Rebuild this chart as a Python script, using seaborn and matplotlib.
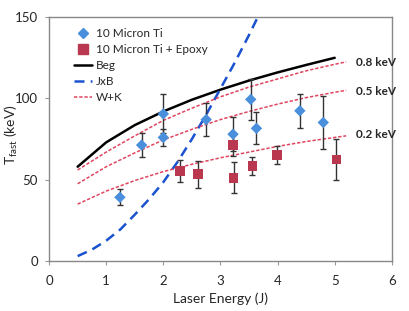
import numpy as np
import pandas as pd
import matplotlib
matplotlib.use("Agg")
import matplotlib.pyplot as plt
import seaborn as sns
from matplotlib.lines import Line2D

sns.set_style("white")
plt.rcParams['font.family'] = ['Lato', 'DejaVu Sans']

# measured points
ti_energy = [1.24, 1.62, 2.0, 2.0, 2.75, 3.22, 3.53, 3.63, 4.39, 4.80]
ti_temp = [39.2, 71.3, 90.5, 76.0, 87.0, 78.0, 99.4, 81.6, 92.4, 85.2]
ti_err = [5.0, 7.5, 12.0, 5.0, 10.0, 10.5, 12.7, 9.8, 10.3, 16.0]

epoxy_energy = [2.29, 2.61, 3.22, 3.23, 3.56, 3.99, 5.03]
epoxy_temp = [55.3, 53.4, 71.3, 51.2, 58.4, 65.2, 62.5]
epoxy_err = [7.0, 8.3, 7.0, 9.5, 5.5, 5.5, 12.5]

# model curves
beg_energy = [0.5, 1.0, 1.5, 2.0, 2.5, 3.0, 3.5, 4.0, 4.5, 5.0]
beg_temp = [58.0, 73.0, 83.6, 92.0, 99.2, 105.4, 111.0, 116.0, 120.6, 125.0]

jxb_energy = [0.5, 0.75, 1.0, 1.25, 1.5, 1.75, 2.0, 2.25, 2.5, 2.75, 3.0, 3.25, 3.5, 3.75]
jxb_temp = [3.0, 7.0, 12.5, 19.5, 28.5, 38.0, 48.5, 61.0, 75.0, 90.0, 106.0, 122.0, 139.0, 157.0]

wk_energy = [0.5, 1.0, 1.5, 2.0, 2.5, 3.0, 3.5, 4.0, 4.5, 5.0, 5.2]
wk_08 = [56.0, 67.0, 77.0, 86.5, 94.0, 101.0, 107.0, 112.0, 117.0, 121.0, 122.5]
wk_05 = [47.5, 58.0, 66.5, 74.5, 81.0, 87.0, 92.0, 96.5, 100.5, 103.8, 105.0]
wk_02 = [35.0, 43.0, 49.5, 55.0, 59.5, 63.5, 67.0, 70.5, 73.5, 76.0, 77.0]

wk_labels = ['0.8 keV', '0.5 keV', '0.2 keV']
wk_label_y = [122, 104, 78]

blue = '#4a8fdc'
red = '#b9384f'
pink = '#e0455f'
jxb_blue = '#1a52cf'

fig = plt.figure(figsize=(4.09, 3.11), dpi=100)
ax = fig.add_axes([0.12, 0.1608, 0.838, 0.784])

sns.lineplot(x=beg_energy, y=beg_temp, ax=ax, color='black', linewidth=1.8)
sns.lineplot(x=jxb_energy, y=jxb_temp, ax=ax, color=jxb_blue, linewidth=1.8)
ax.lines[-1].set_dashes([4, 2.5])
for curve in [wk_08, wk_05, wk_02]:
    sns.lineplot(x=wk_energy, y=curve, ax=ax, color=pink, linewidth=1.1)
    ax.lines[-1].set_dashes([2.2, 1.2])

ax.errorbar(ti_energy, ti_temp, yerr=ti_err, fmt='none', ecolor='#333333',
            elinewidth=1.0, capsize=2, capthick=1.0, zorder=3)
ax.errorbar(epoxy_energy, epoxy_temp, yerr=epoxy_err, fmt='none', ecolor='#333333',
            elinewidth=1.0, capsize=2, capthick=1.0, zorder=3)
sns.scatterplot(x=ti_energy, y=ti_temp, ax=ax, marker='D', s=34, color=blue,
                edgecolor='none', zorder=4)
sns.scatterplot(x=epoxy_energy, y=epoxy_temp, ax=ax, marker='s', s=48, color=red,
                edgecolor='none', zorder=4)

for lab, yy in zip(wk_labels, wk_label_y):
    ax.text(5.37, yy, lab, fontsize=8.5, fontweight='bold', va='center', ha='left')

ax.set_xlim(0, 6)
ax.set_ylim(0, 150)
ax.set_xticks(range(0, 7))
ax.set_yticks([0, 50, 100, 150])
ax.tick_params(axis='both', labelsize=9.5, length=3, color='#999999', direction='out',
               bottom=True, left=True)
ax.tick_params(axis='x', pad=7)
ax.tick_params(axis='y', pad=5)
for sp in ax.spines.values():
    sp.set_color('#888888')
    sp.set_linewidth(1.0)

ax.set_xlabel('Laser Energy (J)', fontsize=10)
ax.xaxis.set_label_coords(0.5, -0.13)
ax.set_ylabel(r'T$_{\mathregular{fast}}$ (keV)', fontsize=10)
ax.yaxis.set_label_coords(-0.085, 0.52)

handles = [
    Line2D([], [], linestyle='none', marker='D', markersize=5.5, color=blue),
    Line2D([], [], linestyle='none', marker='s', markersize=6.5, color=red),
    Line2D([], [], color='black', linewidth=1.8),
    Line2D([], [], color=jxb_blue, linewidth=1.8, dashes=[4, 2.5]),
    Line2D([], [], color=pink, linewidth=1.1, dashes=[2.2, 1.2]),
]
labels = ['10 Micron Ti', '10 Micron Ti + Epoxy', 'Beg', 'JxB', 'W+K']
ax.legend(handles, labels, loc='upper left', bbox_to_anchor=(0.06, 0.975),
          frameon=False, fontsize=8.5, handlelength=1.5, handletextpad=0.3,
          labelspacing=0.42, borderaxespad=0)

fig.savefig('out.png', dpi=100)
